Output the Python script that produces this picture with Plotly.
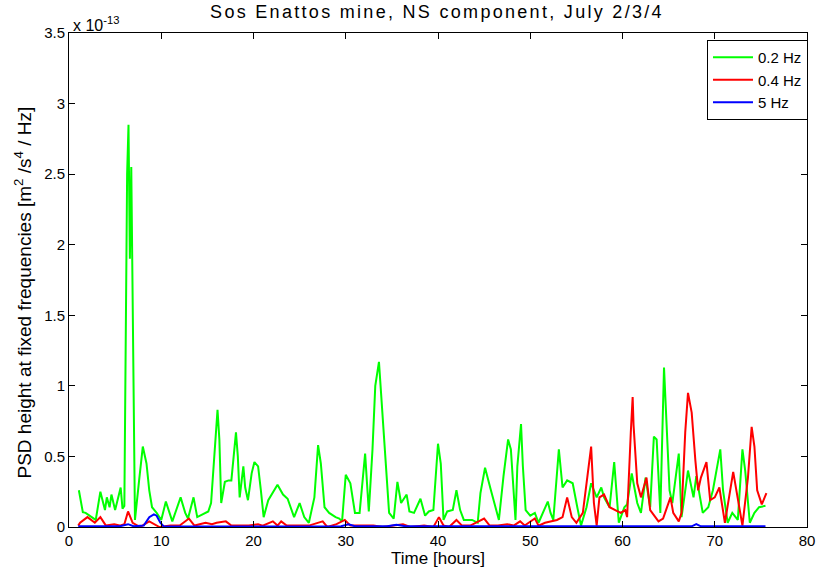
import plotly.graph_objects as go

# Values are in units of 1e-13 m^2/s^4/Hz
green_x = [1.07,1.5,1.8,2.4,2.9,3.4,3.9,4.1,4.4,4.6,5.0,5.6,5.8,6.0,6.3,6.45,6.6,6.75,7.0,7.15,7.6,8.0,8.4,8.7,9.0,9.5,10.0,10.5,10.9,11.2,12.1,12.6,12.9,13.5,13.9,14.6,15.1,15.4,15.8,16.1,16.3,16.5,16.9,17.3,17.6,17.9,18.1,18.3,18.5,18.9,19.1,19.4,19.8,20.1,20.5,20.8,21.1,21.6,22.6,23.2,23.7,24.4,25.0,25.5,26.0,26.6,27.0,27.3,27.7,28.2,28.9,29.3,29.6,30.0,30.5,31.0,31.5,32.1,32.5,32.9,33.2,33.6,33.9,34.4,34.7,35.2,35.6,36.0,36.6,36.9,37.4,38.1,38.6,39.0,39.5,40.0,40.3,40.6,41.0,41.6,42.0,42.4,42.8,43.7,44.3,44.6,45.1,45.7,46.6,47.1,47.6,47.9,48.4,48.6,49.0,49.2,49.5,50.0,50.5,50.9,51.9,52.2,52.5,53.1,53.5,54.0,54.6,55.1,55.5,56.1,56.6,57.2,57.7,58.0,58.6,59.1,59.6,60.2,60.5,61.0,61.6,62.0,62.5,63.0,63.4,63.7,64.1,64.5,64.8,65.1,65.4,66.1,66.4,67.1,67.7,68.0,68.7,69.3,69.8,70.6,70.9,71.4,71.9,72.5,73.0,73.3,73.8,74.3,74.8,75.5]
green_y = [0.26,0.105,0.1,0.07,0.05,0.25,0.12,0.21,0.14,0.23,0.12,0.28,0.13,0.15,2.5,2.85,1.9,2.55,1.0,0.05,0.33,0.57,0.45,0.26,0.14,0.1,0.05,0.18,0.1,0.04,0.21,0.1,0.06,0.21,0.07,0.09,0.11,0.17,0.55,0.83,0.62,0.17,0.32,0.33,0.33,0.57,0.67,0.5,0.21,0.43,0.28,0.19,0.38,0.46,0.43,0.26,0.07,0.19,0.3,0.23,0.2,0.07,0.17,0.07,0.03,0.21,0.58,0.45,0.14,0.1,0.07,0.06,0.04,0.37,0.31,0.1,0.1,0.52,0.11,0.55,1.0,1.17,0.88,0.38,0.1,0.06,0.32,0.17,0.23,0.11,0.1,0.2,0.08,0.11,0.12,0.59,0.45,0.05,0.11,0.12,0.26,0.12,0.05,0.05,0.03,0.24,0.42,0.27,0.05,0.36,0.62,0.55,0.05,0.43,0.73,0.43,0.12,0.08,0.1,0.03,0.18,0.1,0.05,0.55,0.28,0.33,0.31,0.14,0.01,0.14,0.31,0.21,0.28,0.21,0.14,0.46,0.03,0.14,0.16,0.38,0.17,0.1,0.35,0.14,0.64,0.62,0.1,1.13,0.67,0.26,0.17,0.52,0.07,0.4,0.21,0.36,0.1,0.14,0.26,0.55,0.26,0.03,0.1,0.05,0.55,0.4,0.03,0.1,0.14,0.15]

red_x = [1.0,1.2,2.0,2.8,3.4,4.0,4.9,5.5,6.0,6.4,6.9,7.7,8.7,9.2,9.8,11.0,12.0,13.0,13.6,14.8,15.5,16.0,17.0,17.6,18.5,19.5,20.5,21.0,22.1,22.6,23.0,23.6,25.0,26.0,27.5,28.0,29.0,29.9,30.5,31.0,33.0,34.0,35.5,36.2,37.0,38.5,39.5,40.1,40.6,41.2,42.0,42.6,43.5,45.0,45.6,46.5,47.5,48.2,48.9,49.4,50.5,50.9,51.6,52.9,53.5,54.0,54.5,55.0,55.7,56.2,56.6,56.9,57.2,57.5,58.0,58.6,59.3,59.8,60.3,60.5,60.9,61.1,61.2,61.6,62.0,62.6,63.0,63.9,64.4,65.2,65.5,66.1,66.4,66.8,67.1,67.5,67.9,68.2,68.5,69.1,69.5,70.0,70.5,71.1,72.0,72.5,73.0,73.6,74.0,74.3,74.6,75.1,75.6]
red_y = [0.01,0.03,0.07,0.03,0.07,0.01,0.02,0.01,0.02,0.11,0.03,0.0,0.04,0.02,0.0,0.01,0.01,0.06,0.01,0.03,0.02,0.03,0.04,0.01,0.01,0.01,0.02,0.01,0.04,0.01,0.04,0.01,0.01,0.01,0.04,0.0,0.02,0.05,0.01,0.01,0.01,0.0,0.01,0.02,0.0,0.01,0.0,0.07,0.01,0.0,0.05,0.01,0.01,0.06,0.01,0.01,0.02,0.01,0.04,0.01,0.06,0.01,0.03,0.05,0.07,0.21,0.07,0.03,0.1,0.35,0.57,0.17,0.01,0.21,0.23,0.14,0.12,0.1,0.12,0.07,0.67,0.92,0.72,0.31,0.21,0.35,0.12,0.04,0.06,0.21,0.1,0.04,0.1,0.67,0.95,0.81,0.47,0.26,0.35,0.46,0.19,0.21,0.28,0.03,0.39,0.19,0.01,0.35,0.71,0.57,0.26,0.16,0.24]

blue_x = [1.0,5.5,6.4,7.0,8.1,8.7,9.2,9.5,9.9,10.3,29.5,30.3,31.0,34.5,35.5,36.5,67.5,68.0,68.5,75.5]
blue_y = [0.005,0.005,0.02,0.005,0.01,0.07,0.09,0.08,0.03,0.003,0.005,0.02,0.005,0.005,0.015,0.005,0.005,0.02,0.005,0.005]

series_names = ["0.2 Hz", "0.4 Hz", "5 Hz"]
x_ticks = [0, 10, 20, 30, 40, 50, 60, 70, 80]
y_ticks = [0, 0.5, 1, 1.5, 2, 2.5, 3, 3.5]

fnt = "Liberation Sans, Arial, Helvetica, sans-serif"

fig = go.Figure()
fig.add_trace(go.Scatter(x=green_x, y=green_y, mode="lines", name=series_names[0],
                         line=dict(color="#00ff00", width=2)))
fig.add_trace(go.Scatter(x=red_x, y=red_y, mode="lines", name=series_names[1],
                         line=dict(color="#ff0000", width=2)))
fig.add_trace(go.Scatter(x=blue_x, y=blue_y, mode="lines", name=series_names[2],
                         line=dict(color="#0000ff", width=2)))

axis_common = dict(showline=True, linecolor="black", linewidth=1, mirror="ticks",
                   ticks="inside", ticklen=6, tickcolor="black", showgrid=False,
                   zeroline=False, tickfont=dict(family=fnt, size=15, color="black"))

fig.update_layout(
    width=824, height=579,
    margin=dict(l=69, r=9, t=33, b=52),
    paper_bgcolor="white", plot_bgcolor="white",
    font=dict(family=fnt, size=15, color="black"),
    title=dict(text="Sos Enattos mine, NS component, July 2/3/4", x=437 / 824, xanchor="center",
               y=0.99, yanchor="top", font=dict(family=fnt, size=18, color="black")),
    xaxis=dict(range=[0, 80], tickvals=x_ticks, ticktext=[str(v) for v in x_ticks],
               title=dict(text="Time [hours]", standoff=4, font=dict(family=fnt, size=17)),
               **axis_common),
    yaxis=dict(range=[0, 3.5], tickvals=y_ticks, ticktext=[("%g" % v) for v in y_ticks],
               **axis_common),
    legend=dict(x=(816 - 69) / 746, y=0.986, xanchor="right", yanchor="top",
                bgcolor="white", bordercolor="black", borderwidth=1, itemwidth=40,
                font=dict(family=fnt, size=15), tracegroupgap=0),
    showlegend=True,
    annotations=[
        dict(text="x 10<sup>-13</sup>", xref="paper", yref="paper", x=0.0, y=1.0,
             xanchor="left", yanchor="bottom", showarrow=False,
             font=dict(family=fnt, size=16, color="black"), xshift=2, yshift=-3),
        dict(text="PSD height at fixed frequencies [m<sup>2</sup> /s<sup>4</sup> / Hz]",
             xref="paper", yref="paper", x=(23 - 69) / 746, y=(527 - 292) / 494,
             xanchor="center", yanchor="middle", textangle=-90, showarrow=False,
             font=dict(family=fnt, size=19, color="black")),
    ],
)

# The original (MATLAB) title is drawn with wide letter spacing
post = "document.querySelectorAll('.gtitle').forEach(function(e){e.style.letterSpacing='2.3px';});"
fig.write_html("out.html", post_script=post)
